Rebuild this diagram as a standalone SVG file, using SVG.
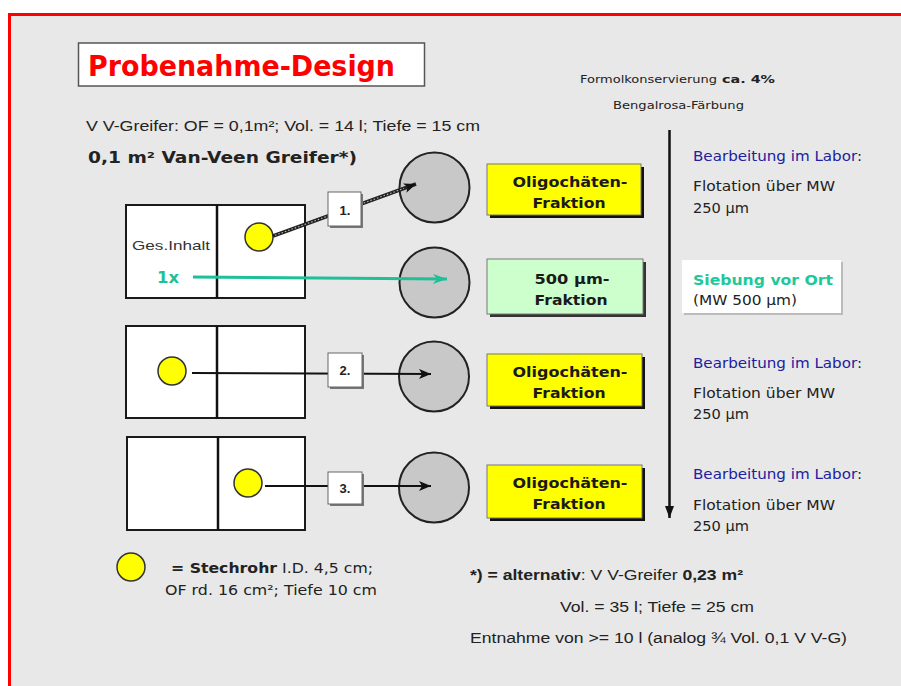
<svg xmlns="http://www.w3.org/2000/svg" width="901" height="686" viewBox="0 0 901 686">
<defs>
<style>
.v{font-family:"DejaVu Sans","Verdana",sans-serif;}
.a{font-family:"Liberation Sans","Arial",sans-serif;}
.grab{fill:#fff;stroke:#1a1a1a;stroke-width:2;}
.div{stroke:#111;stroke-width:2.5;}
.core{fill:#ffff00;stroke:#333;stroke-width:1.5;}
.bowl{fill:#c8c8c8;stroke:#222;stroke-width:2;}
.frac{fill:#ffff00;stroke:#777;stroke-width:1;}
.shadow{fill:#111;}
.lbl{fill:#fff;stroke:#666;stroke-width:1;}
.lblsh{fill:#777;}
.ft{font-size:14px;font-weight:bold;fill:#1a1a1a;text-anchor:middle;}
.txt{fill:#222;}
.conn{stroke:#111;stroke-width:2;fill:none;}
</style>
<marker id="ah" viewBox="0 0 12 10" refX="12" refY="5" markerWidth="12" markerHeight="10" orient="auto" markerUnits="userSpaceOnUse">
<path d="M0,0 L12,5 L0,10 L3,5 z" fill="#111"/>
</marker>
<marker id="ahT" viewBox="0 0 14 10" refX="14" refY="5" markerWidth="14" markerHeight="10" orient="auto" markerUnits="userSpaceOnUse">
<path d="M0,0 L14,5 L0,10 L4,5 z" fill="#1fbf98"/>
</marker>
<marker id="ahV" viewBox="0 0 12 9" refX="12" refY="4.5" markerWidth="12" markerHeight="9" orient="auto" markerUnits="userSpaceOnUse">
<path d="M0,0 L12,4.5 L0,9 z" fill="#111"/>
</marker>
</defs>

<!-- background and frame -->
<rect x="0" y="0" width="901" height="686" fill="#ffffff"/>
<rect x="10" y="15" width="891" height="671" fill="#e8e8e8"/>
<line x1="8" y1="14.5" x2="901" y2="14.5" stroke="#ff0000" stroke-width="3"/>
<line x1="9.5" y1="13" x2="9.5" y2="686" stroke="#ff0000" stroke-width="3"/>

<!-- title -->
<g id="title">
<rect x="78.5" y="43" width="346" height="43" fill="#fff" stroke="#555" stroke-width="1.5"/>
<text x="88" y="76" class="v" font-size="28" font-weight="bold" fill="#ff0000" textLength="307" lengthAdjust="spacingAndGlyphs">Probenahme-Design</text>
</g>

<g id="header-texts">
<text x="86" y="131" class="a txt" font-size="14" textLength="394" lengthAdjust="spacingAndGlyphs">V V-Greifer: OF = 0,1m²; Vol. = 14 l; Tiefe = 15 cm</text>
<text x="88" y="163" class="v txt" font-size="16" font-weight="bold" textLength="269" lengthAdjust="spacingAndGlyphs">0,1 m² Van-Veen Greifer*)</text>
<text x="580" y="83" class="v txt" font-size="11" textLength="137" lengthAdjust="spacingAndGlyphs">Formolkonservierung</text>
<text x="722" y="83" class="v txt" font-size="11" font-weight="bold" textLength="53" lengthAdjust="spacingAndGlyphs">ca. 4%</text>
<text x="613" y="109" class="v txt" font-size="11" textLength="131" lengthAdjust="spacingAndGlyphs">Bengalrosa-Färbung</text>
</g>

<!-- grab boxes -->
<g id="grab1">
<rect class="grab" x="126" y="205" width="179" height="93"/>
<line class="div" x1="217" y1="205" x2="217" y2="298"/>
<text x="132" y="250" class="a" font-size="13" fill="#333" textLength="78" lengthAdjust="spacingAndGlyphs">Ges.Inhalt</text>
<text x="157" y="283" class="v" font-size="16" font-weight="bold" fill="#1fbf98" textLength="22" lengthAdjust="spacingAndGlyphs">1x</text>
<circle class="core" cx="259" cy="237" r="14"/>
</g>
<g id="grab2">
<rect class="grab" x="126" y="326" width="179" height="92"/>
<line class="div" x1="217" y1="326" x2="217" y2="419"/>
<circle class="core" cx="172" cy="371" r="14"/>
</g>
<g id="grab3">
<rect class="grab" x="127" y="437" width="178" height="93"/>
<line class="div" x1="218" y1="437" x2="218" y2="530"/>
<circle class="core" cx="248" cy="483" r="14"/>
</g>

<!-- bowls -->
<g id="bowl1"><circle class="bowl" cx="434.5" cy="187.5" r="35"/></g>
<g id="bowl2"><circle class="bowl" cx="434.5" cy="282.5" r="35"/></g>
<g id="bowl3"><circle class="bowl" cx="434" cy="376.5" r="35"/></g>
<g id="bowl4"><circle class="bowl" cx="434" cy="487.5" r="35"/></g>

<!-- connectors -->
<g id="connectors">
<line x1="273" y1="236" x2="416" y2="184" stroke="#222" stroke-width="3.5" marker-end="url(#ah)"/>
<line x1="275" y1="235.3" x2="404" y2="188.4" stroke="#bdbdbd" stroke-width="1.1" stroke-dasharray="1.5 2"/>
<line x1="193" y1="277" x2="447" y2="279" stroke="#1fbf98" stroke-width="3" marker-end="url(#ahT)"/>
<line class="conn" x1="192" y1="373" x2="431" y2="374" marker-end="url(#ah)"/>
<line class="conn" x1="265" y1="486" x2="431" y2="486" marker-end="url(#ah)"/>
<line x1="669.5" y1="130" x2="669.5" y2="518" stroke="#111" stroke-width="2.5" marker-end="url(#ahV)"/>
</g>

<!-- step labels -->
<g id="label1">
<rect class="lblsh" x="330" y="194" width="33" height="34"/>
<rect class="lbl" x="328" y="192" width="33" height="34"/>
<text x="345" y="215" class="a" font-size="13" font-weight="bold" fill="#222" text-anchor="middle">1.</text>
</g>
<g id="label2">
<rect class="lblsh" x="330" y="355" width="34" height="34"/>
<rect class="lbl" x="328" y="353" width="34" height="34"/>
<text x="345" y="375" class="a" font-size="13" font-weight="bold" fill="#222" text-anchor="middle">2.</text>
</g>
<g id="label3">
<rect class="lblsh" x="330" y="474" width="34" height="32"/>
<rect class="lbl" x="328" y="472" width="34" height="32"/>
<text x="345" y="493" class="a" font-size="13" font-weight="bold" fill="#222" text-anchor="middle">3.</text>
</g>

<!-- fraction boxes -->
<g id="frac1">
<rect class="shadow" x="490" y="167" width="154" height="51"/>
<rect class="frac" x="487" y="164" width="154" height="51"/>
<text x="570" y="187" class="v ft" textLength="115" lengthAdjust="spacingAndGlyphs">Oligochäten-</text>
<text x="569" y="208" class="v ft" textLength="73" lengthAdjust="spacingAndGlyphs">Fraktion</text>
</g>
<g id="frac2">
<rect x="490" y="262" width="156" height="55" fill="#333"/>
<rect x="487" y="259" width="156" height="55" fill="#ccffcc" stroke="#777" stroke-width="1"/>
<text x="572" y="284" class="v ft" textLength="75" lengthAdjust="spacingAndGlyphs">500 µm-</text>
<text x="571" y="305" class="v ft" textLength="73" lengthAdjust="spacingAndGlyphs">Fraktion</text>
</g>
<g id="frac3">
<rect class="shadow" x="490" y="357" width="155" height="52"/>
<rect class="frac" x="487" y="354" width="155" height="52"/>
<text x="570" y="377" class="v ft" textLength="115" lengthAdjust="spacingAndGlyphs">Oligochäten-</text>
<text x="569" y="398" class="v ft" textLength="73" lengthAdjust="spacingAndGlyphs">Fraktion</text>
</g>
<g id="frac4">
<rect class="shadow" x="490" y="468" width="155" height="53"/>
<rect class="frac" x="487" y="465" width="155" height="53"/>
<text x="570" y="488" class="v ft" textLength="115" lengthAdjust="spacingAndGlyphs">Oligochäten-</text>
<text x="569" y="509" class="v ft" textLength="73" lengthAdjust="spacingAndGlyphs">Fraktion</text>
</g>

<!-- right notes -->
<g id="note1">
<text x="693" y="161" class="v" font-size="14" textLength="169" lengthAdjust="spacingAndGlyphs"><tspan fill="#2020a0">Bearbeitung im Labor</tspan><tspan fill="#222">:</tspan></text>
<text x="693" y="191" class="v txt" font-size="14" textLength="142" lengthAdjust="spacingAndGlyphs">Flotation über MW</text>
<text x="693" y="213" class="v txt" font-size="14" textLength="56" lengthAdjust="spacingAndGlyphs">250 µm</text>
</g>
<g id="note2">
<rect x="684" y="262" width="159" height="53" fill="#bbb"/>
<rect x="682" y="260" width="159" height="53" fill="#fff"/>
<text x="693" y="285" class="v" font-size="14" font-weight="bold" fill="#1fc899" textLength="140" lengthAdjust="spacingAndGlyphs">Siebung vor Ort</text>
<text x="693" y="305" class="v txt" font-size="14" textLength="104" lengthAdjust="spacingAndGlyphs">(MW 500 µm)</text>
</g>
<g id="note3">
<text x="693" y="368" class="v" font-size="14" textLength="169" lengthAdjust="spacingAndGlyphs"><tspan fill="#2020a0">Bearbeitung im Labor</tspan><tspan fill="#222">:</tspan></text>
<text x="693" y="398" class="v txt" font-size="14" textLength="142" lengthAdjust="spacingAndGlyphs">Flotation über MW</text>
<text x="693" y="419" class="v txt" font-size="14" textLength="56" lengthAdjust="spacingAndGlyphs">250 µm</text>
</g>
<g id="note4">
<text x="693" y="479" class="v" font-size="14" textLength="169" lengthAdjust="spacingAndGlyphs"><tspan fill="#2020a0">Bearbeitung im Labor</tspan><tspan fill="#222">:</tspan></text>
<text x="693" y="510" class="v txt" font-size="14" textLength="142" lengthAdjust="spacingAndGlyphs">Flotation über MW</text>
<text x="693" y="531" class="v txt" font-size="14" textLength="56" lengthAdjust="spacingAndGlyphs">250 µm</text>
</g>

<!-- legend -->
<g id="legend">
<circle class="core" cx="131" cy="567" r="14"/>
<text x="171" y="573" class="v txt" font-size="13.5" textLength="202" lengthAdjust="spacingAndGlyphs"><tspan font-weight="bold">= Stechrohr</tspan> I.D. 4,5 cm;</text>
<text x="165" y="595" class="v txt" font-size="13.5" textLength="212" lengthAdjust="spacingAndGlyphs">OF rd. 16 cm²; Tiefe 10 cm</text>
</g>

<!-- footnote -->
<g id="footnote">
<text x="470" y="580" class="a txt" font-size="14" textLength="273" lengthAdjust="spacingAndGlyphs"><tspan font-weight="bold">*) = alternativ</tspan>: V V-Greifer <tspan font-weight="bold">0,23 m²</tspan></text>
<text x="560" y="612" class="a txt" font-size="14" textLength="194" lengthAdjust="spacingAndGlyphs">Vol. = 35 l; Tiefe = 25 cm</text>
<text x="470" y="643" class="a txt" font-size="14" textLength="377" lengthAdjust="spacingAndGlyphs">Entnahme von &gt;= 10 l (analog ¾ Vol. 0,1 V V-G)</text>
</g>
</svg>
